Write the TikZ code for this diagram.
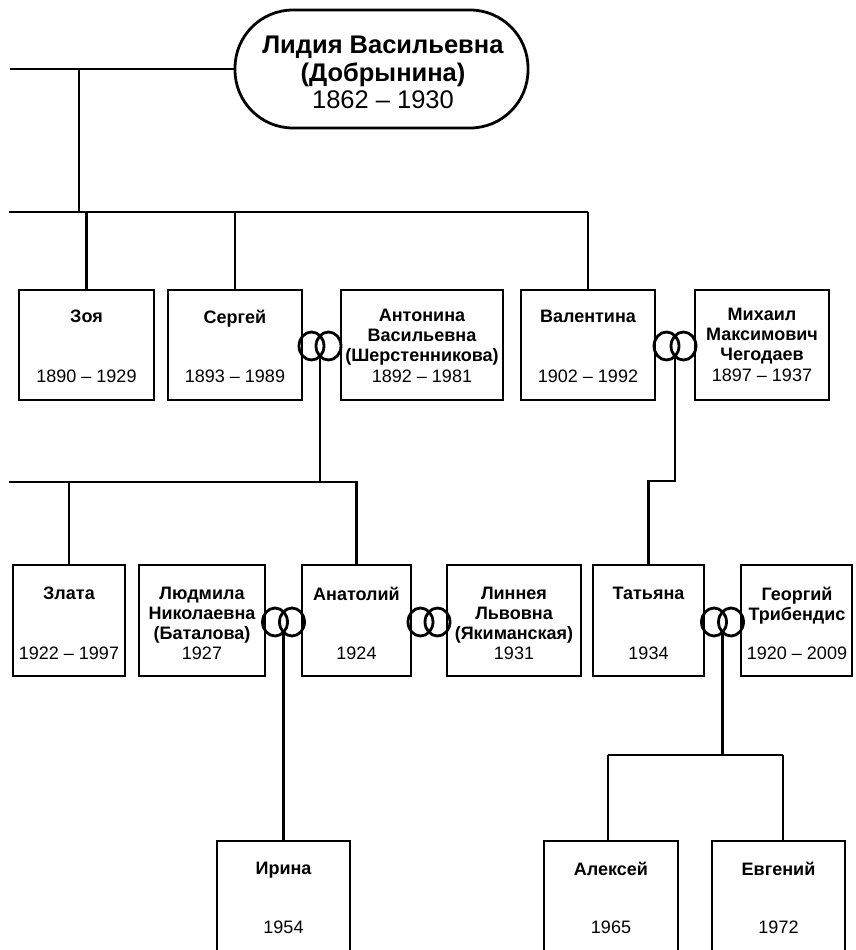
\documentclass[tikz,border=0pt]{standalone}
\usepackage{fontspec}
\setmainfont{Liberation Sans}
\usetikzlibrary{shapes.geometric}
\newcommand\pbx[5]{\node[pbox, minimum width=#4pt, minimum height=#5pt] (#1) at (#2,#3) {};}
\newcommand\ptxt[6]{\node[nm] (#1n) at (#2,#3) {#5};\node[yr] (#1d) at (#2,#4) {#6};}
\begin{document}
\begin{tikzpicture}[x=1pt,y=-1pt,
  pbox/.style={draw, line width=2.8pt, inner sep=0pt},
  conn/.style={line width=2.3pt},
  ringc/.style={draw, ellipse, line width=2.8pt, minimum width=25pt, minimum height=28pt, inner sep=0pt},
  nm/.style={anchor=north, align=center, inner sep=0pt, font=\fontsize{18}{20}\selectfont\bfseries},
  yr/.style={anchor=north, inner sep=0pt, font=\fontsize{18}{20}\selectfont},
]
\clip (0,0) rectangle (855,950);
\fill[white] (0,0) rectangle (855,950);

% root
\node[pbox, rounded corners=58pt, minimum width=293pt, minimum height=118pt] (lyd) at (381.5,69) {};
\node[align=center, inner sep=0pt, font=\fontsize{25.5}{27.5}\selectfont] (lydt) at (383,72.5)
  {\textbf{Лидия Васильевна}\\\textbf{(Добрынина)}\\1862 – 1930};

% row 1
\pbx{zoya}{86.5}{345}{135}{110}
\pbx{serg}{235}{345}{134}{110}
\pbx{anton}{422}{345}{162}{110}
\pbx{valya}{588}{345}{134}{110}
\pbx{mikh}{762}{345}{134}{110}
\ptxt{zoya}{86.5}{309.5}{369.5}{Зоя}{1890 – 1929}
\ptxt{serg}{235}{309.5}{369.5}{Сергей}{1893 – 1989}
\ptxt{anton}{422}{308.5}{369.5}{Антонина\\Васильевна\\(Шерстенникова)}{1892 – 1981}
\ptxt{valya}{588}{309.5}{369.5}{Валентина}{1902 – 1992}
\ptxt{mikh}{762}{307.5}{368.5}{Михаил\\Максимович\\Чегодаев}{1897 – 1937}

% row 2
\pbx{zlata}{69}{620.5}{112}{111}
\pbx{lyud}{202}{620.5}{126}{111}
\pbx{anat}{356.5}{620.5}{109}{111}
\pbx{linn}{514}{620.5}{134}{111}
\pbx{tanya}{648.5}{620.5}{111}{111}
\pbx{georg}{796.5}{620.5}{111}{111}
\ptxt{zlata}{69}{586.5}{646.5}{Злата}{1922 – 1997}
\ptxt{lyud}{202}{586.5}{646.5}{Людмила\\Николаевна\\(Баталова)}{1927}
\ptxt{anat}{356.5}{586.5}{646.5}{Анатолий}{1924}
\ptxt{linn}{514}{586.5}{646.5}{Линнея\\Львовна\\(Якиманская)}{1931}
\ptxt{tanya}{648.5}{586.5}{646.5}{Татьяна}{1934}
\ptxt{georg}{797}{586.5}{646.5}{Георгий\\Трибендис}{1920 – 2009}

% row 3
\pbx{irina}{283.5}{905.5}{133}{129}
\pbx{alex}{611}{905.5}{134}{129}
\pbx{evg}{778.5}{905.5}{133}{129}
\ptxt{irina}{283.5}{861.5}{920.5}{Ирина}{1954}
\ptxt{alex}{611}{861.5}{920.5}{Алексей}{1965}
\ptxt{evg}{778.5}{861.5}{920.5}{Евгений}{1972}

% marriage rings
\node[ringc] (r1a) at (311.5,346) {};
\node[ringc] (r1b) at (328.5,346) {};
\node[ringc] (r2a) at (666.5,346) {};
\node[ringc] (r2b) at (683.5,346) {};
\node[ringc] (r3a) at (275,622) {};
\node[ringc] (r3b) at (292,622) {};
\node[ringc] (r4a) at (420.5,622) {};
\node[ringc] (r4b) at (437.5,622) {};
\node[ringc] (r5a) at (714,622) {};
\node[ringc] (r5b) at (731,622) {};

% connectors
\coordinate (t0) at (10,69);
\coordinate (b1) at (79,69);
\draw[conn] (t0) -- (lyd.west);
\coordinate (b2L) at (9,212);
\coordinate (b2R) at (588,212);
\draw[conn] (b1) -- (b1 |- b2L);
\draw[conn] (b2L) -- (b2R);
\draw[conn] (zoya.north) -- (zoya.north |- b2L);
\draw[conn] (serg.north) -- (serg.north |- b2L);
\draw[conn] (valya.north) -- (b2R);

\coordinate (r1) at (320,357);
\coordinate (b3L) at (9,482);
\coordinate (b3R) at (356.5,482);
\draw[conn] (r1) -- (r1 |- b3L);
\draw[conn] (b3L) -- (b3R) -- (anat.north);
\draw[conn] (zlata.north) -- (zlata.north |- b3L);

\coordinate (r2) at (675,357);
\coordinate (jog) at (648.5,481);
\draw[conn] (r2) |- (jog) -- (tanya.north);

\coordinate (r3) at (283.5,633);
\draw[conn] (r3) -- (irina.north);

\coordinate (r5) at (722.5,633);
\coordinate (b4M) at (722.5,755);
\coordinate (b4L) at (608,755);
\coordinate (b4R) at (783,755);
\draw[conn] (r5) -- (b4M);
\draw[conn] (b4L) -- (b4R);
\draw[conn] (b4L) -- (b4L |- alex.north);
\draw[conn] (b4R) -- (b4R |- evg.north);
\end{tikzpicture}
\end{document}
